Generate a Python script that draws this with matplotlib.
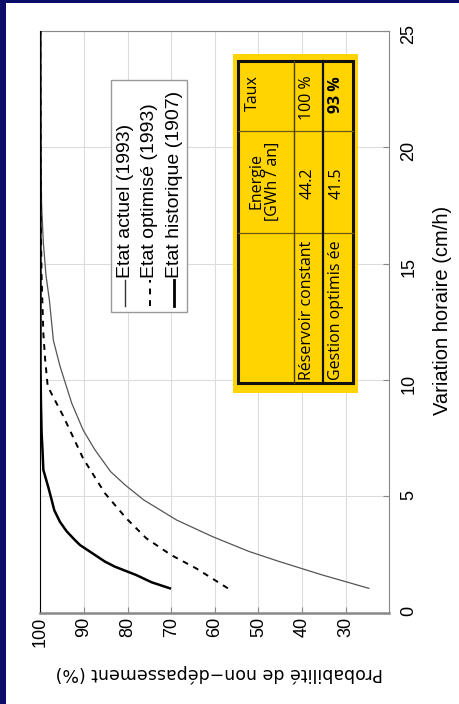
import matplotlib
matplotlib.use("Agg")
import matplotlib.pyplot as plt
from matplotlib.patches import Rectangle

# Data (probabilite de non-depassement [%] vs variation horaire [cm/h])
v_hist = [1.04, 1.3, 1.61, 1.97, 2.19, 2.9, 3.12, 3.5, 3.9, 4.4, 4.84, 5.41, 6.13, 7.0, 7.7, 9.0, 10.5, 25]
p_hist = [70.3, 74.5, 78.0, 82.9, 85.2, 90.9, 92.1, 94.0, 95.5, 96.8, 97.4, 98.2, 99.3, 99.5, 99.7, 99.85, 99.95, 100]

v_opt = [1.04, 1.9, 2.47, 3.19, 4.05, 5.13, 6.63, 8.43, 9.72, 10.9, 12.0, 14.4, 17, 25]
p_opt = [57.0, 64.3, 70.0, 75.7, 80.3, 85.2, 90.2, 94.7, 98.3, 98.9, 99.3, 99.7, 99.9, 100]

v_act = [1.04, 1.61, 2.19, 2.62, 3.26, 3.98, 4.84, 5.49, 6.06, 7.0, 7.85, 9.0, 10.6, 11.7, 13.4, 14.5, 15.9, 17.5, 20, 25]
p_act = [24.7, 35.3, 45.2, 52.1, 60.5, 68.8, 76.3, 80.6, 83.9, 87.5, 90.2, 92.8, 95.5, 97.0, 97.9, 98.7, 99.3, 99.7, 99.9, 100]

legend_labels = ["Etat actuel (1993)", "Etat optimisé (1993)", "Etat historique (1907)"]

row_labels = ["Réservoir constant", "Gestion optimis ée"]
energie = ["44.2", "41.5"]
taux = ["100 %", "93 %"]

p_ticks = [100, 90, 80, 70, 60, 50, 40, 30]
v_ticks = [0, 5, 10, 15, 20, 25]

W, H = 459, 704
fig = plt.figure(figsize=(W / 100, H / 100), dpi=100)
fig.patch.set_facecolor("#0b0d68")
fig.patches.append(Rectangle((6 / W, 0), 1, 1 - 3 / H, transform=fig.transFigure,
                             facecolor="white", edgecolor="none", zorder=-1))

ax = fig.add_axes([40.3 / W, 1 - 612.5 / H, 349 / W, 581.5 / H])
ax.set_zorder(2)
ax.set_xlim(100, 20)
ax.set_ylim(0, 25)

ax.plot(p_act, v_act, color="#555555", lw=0.9, zorder=3)
ax.plot(p_opt, v_opt, color="black", lw=1.4, ls=(0, (3, 3)), zorder=3)
ax.plot(p_hist, v_hist, color="black", lw=1.8, zorder=3)

ax.set_xticks(p_ticks)
ax.set_yticks(v_ticks)
ax.grid(True, color="#dcdcdc", lw=0.8)
ax.yaxis.tick_right()
ax.tick_params(axis="both", direction="in", length=4, color="#888888",
               labelsize=13, labelrotation=90, labelfontfamily="Liberation Sans")
ax.tick_params(axis="x", pad=3)
ax.tick_params(axis="y", pad=8)
for s in ["top", "right", "bottom"]:
    ax.spines[s].set_color("#888888")
ax.spines["bottom"].set_linewidth(1.8)
ax.spines["left"].set_color("black")

ax.set_xlabel("Probabilité de non−dépassement (%)", fontsize=12.5,
              family="DejaVu Sans", rotation=180, va="center", ha="center")
ax.xaxis.set_label_coords(0.513, -0.104)
ax.set_ylabel("Variation horaire (cm/h)", fontsize=14.5, family="Liberation Sans",
              rotation=90, va="center", ha="center")
ax.yaxis.set_label_position("right")
ax.yaxis.set_label_coords(1.125, 0.52)

# legend (rotated), drawn by hand
ax.add_patch(Rectangle((0.2017, 0.5173), 0.2195, 0.3984, transform=ax.transAxes,
                       facecolor="white", edgecolor="#999999", lw=1, zorder=5))
leg_x = [0.2427, 0.3129, 0.3831]
leg_style = [dict(color="#333333", lw=1.0), dict(color="black", lw=1.4, ls=(0, (3, 3))),
             dict(color="black", lw=2.0)]
for x, lab, st in zip(leg_x, legend_labels, leg_style):
    ax.plot([x, x], [0.527, 0.5718], transform=ax.transAxes, zorder=6, **st)
    ax.text(x, 0.5752, lab, transform=ax.transAxes, rotation=90, rotation_mode="anchor",
            ha="left", va="center", fontsize=14, family="Liberation Sans", zorder=6)

# yellow table (rotated)
ax.add_patch(Rectangle((0.5533, 0.3775), 0.3562, 0.583, transform=ax.transAxes,
                       facecolor="#ffd400", edgecolor="none", zorder=5))
ax.add_patch(Rectangle((0.5665, 0.3942), 0.3286, 0.5547, transform=ax.transAxes,
                       facecolor="none", edgecolor="#111111", lw=2.2, zorder=6))
for y in [0.8277, 0.6531]:
    ax.plot([0.5665, 0.8951], [y, y], transform=ax.transAxes, color="#6b5a10", lw=0.9, zorder=6)
ax.plot([0.7269, 0.7269], [0.3942, 0.9489], transform=ax.transAxes, color="#4a3e0a", lw=1.0, zorder=6)
ax.plot([0.8109, 0.8109], [0.3942, 0.9489], transform=ax.transAxes, color="#111111", lw=1.6, zorder=6)

tfont = dict(family="Open Sans", fontsize=11.5, rotation=90, transform=ax.transAxes, zorder=7)
ax.text(0.6095, 0.894, "Taux", ha="center", va="center", **tfont)
ax.text(0.6429, 0.742, "Energie\n[GWh / an]", ha="center", va="center",
        multialignment="center", linespacing=1.1, **tfont)
row_x = [0.7656, 0.8487]
for i, x in enumerate(row_x):
    w = "bold" if i == 1 else "normal"
    ax.text(x, 0.7386, energie[i], ha="center", va="center", **tfont)
    ax.text(x, 0.885 if i == 0 else 0.89, taux[i], ha="center", va="center", weight=w, **tfont)
    ax.text(x, 0.3995, row_labels[i], ha="center", va="bottom", **tfont)

fig.savefig("out.png", dpi=100, facecolor=fig.get_facecolor())
